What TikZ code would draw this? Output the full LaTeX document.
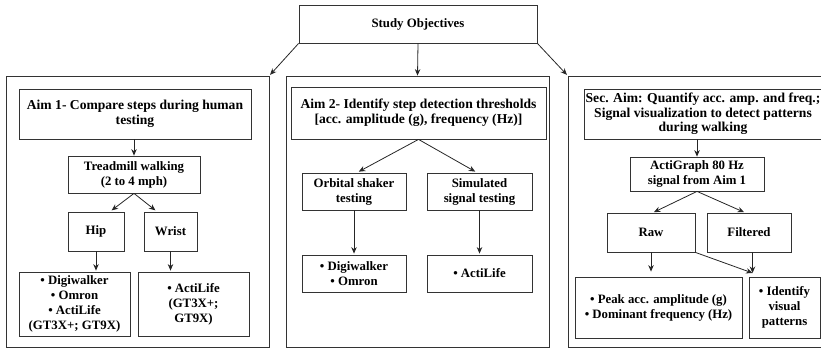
\documentclass[tikz,border=0pt]{standalone}
\usepackage{fontspec}
\setmainfont{Liberation Serif}
\usetikzlibrary{arrows.meta}
\begin{document}
\begin{tikzpicture}[x=1pt,y=-1pt,
  box/.style={draw=black!80, line width=0.8pt, align=center, inner sep=1pt,
    font=\fontsize{12.8}{15}\selectfont\bfseries},
  aimbox/.style={box, font=\fontsize{13.6}{15}\selectfont\bfseries},
  panel/.style={draw=black!80, line width=0.8pt, inner sep=0pt},
  arr/.style={-{Stealth[length=6.5pt,width=5.5pt]}, draw=black!85, line width=0.8pt}]
\useasboundingbox (0,0) rectangle (821,350);
\clip (0,0) rectangle (821,350);

% top level
\node[box, minimum width=238pt, minimum height=38pt] (top) at (418,24) {Study Objectives};

% the three panels
\node[panel, minimum width=263pt, minimum height=271pt] (p1) at (137.5,211.5) {};
\node[panel, minimum width=263pt, minimum height=271pt] (p2) at (417.5,211.5) {};
\node[panel, minimum width=272pt, minimum height=271pt] (p3) at (704,211.5) {};

\draw[arr, shorten >=1pt] (top.south west) -- (p1.north east);
\draw[arr] (top.south) -- (p2.north);
\draw[arr, shorten >=1pt] (top.south east) -- (p3.north west);

% Aim 1
\node[aimbox, minimum width=232pt, minimum height=50pt] (aim1) at (135,114)
  {Aim 1- Compare steps during human\\testing};
\node[box, minimum width=132pt, minimum height=37pt] (tread) at (134,174.5)
  {Treadmill walking\\(2 to 4 mph)};
\node[box, minimum width=56pt, minimum height=39pt] (hip) at (96,231.5) {Hip};
\node[box, minimum width=53pt, minimum height=39pt] (wrist) at (170.5,231.5) {Wrist};
\node[box, minimum width=111pt, minimum height=64pt] (dev1) at (74.5,304)
  {• Digiwalker\\• Omron\\• ActiLife\\(GT3X+; GT9X)};
\node[box, minimum width=111pt, minimum height=64pt] (dev2) at (193.5,304)
  {• ActiLife\\(GT3X+;\\GT9X)};

\draw[arr] (tread.north |- aim1.south) -- (tread.north);
\draw[arr, shorten >=2pt] (tread.south) -- ([xshift=14pt]hip.north);
\draw[arr, shorten >=2pt] (tread.south) -- ([xshift=-13.5pt]wrist.north);
\draw[arr, shorten >=1pt] (hip.south) -- (hip.south |- dev1.north);
\draw[arr, shorten >=1pt] (wrist.south) -- (wrist.south |- dev2.north);

% Aim 2
\node[aimbox, minimum width=255pt, minimum height=52pt] (aim2) at (418.5,113)
  {Aim 2- Identify step detection thresholds\\{}[acc. amplitude (g), frequency (Hz)]};
\node[box, minimum width=104pt, minimum height=37pt] (orb) at (354,191.5)
  {Orbital shaker\\testing};
\node[box, minimum width=105pt, minimum height=37pt] (sim) at (479.5,191.5)
  {Simulated\\signal testing};
\node[box, minimum width=104pt, minimum height=37pt] (dev3) at (354,273.5)
  {• Digiwalker\\• Omron};
\node[box, minimum width=105pt, minimum height=37pt] (dev4) at (479.5,273.5)
  {• ActiLife};

\draw[arr, shorten >=2pt] (aim2.south) -- ([xshift=3pt]orb.north);
\draw[arr, shorten >=2pt] (aim2.south) -- ([xshift=-2.5pt]sim.north);
\draw[arr, shorten >=1pt] (orb.south) -- (dev3.north);
\draw[arr, shorten >=1pt] (sim.south) -- (dev4.north);

% Secondary aim
\node[aimbox, font=\fontsize{13.6}{14.6}\selectfont\bfseries,
  minimum width=234pt, minimum height=50pt] (sec) at (703,114)
  {Sec. Aim: Quantify acc. amp. and freq.;\\Signal visualization to detect patterns\\during walking};
\node[box, minimum width=134pt, minimum height=34pt] (acti) at (697,174)
  {ActiGraph 80 Hz\\signal from Aim 1};
\node[box, minimum width=88pt, minimum height=39pt] (raw) at (651,232.5) {Raw};
\node[box, minimum width=84pt, minimum height=39pt] (filt) at (749,232.5) {Filtered};
\node[box, minimum width=167pt, minimum height=61pt] (peak) at (658.5,307.5)
  {• Peak acc. amplitude (g)\\• Dominant frequency (Hz)};
\node[box, minimum width=71pt, minimum height=61pt] (ident) at (784.5,307.5)
  {• Identify\\visual\\patterns};

\coordinate (identin) at (752.5,273);
\draw[arr] (acti.north |- sec.south) -- (acti.north);
\draw[arr, shorten >=1pt] (acti.south) -- ([xshift=2pt]raw.north);
\draw[arr, shorten >=1pt] (acti.south) -- ([xshift=-4pt]filt.north);
\draw[arr, shorten >=5pt] (raw.south) -- (raw.south |- peak.north);
\draw[arr] (raw.south east) -- (identin);
\draw[arr] (filt.south -| identin) -- (identin);
\end{tikzpicture}
\end{document}
